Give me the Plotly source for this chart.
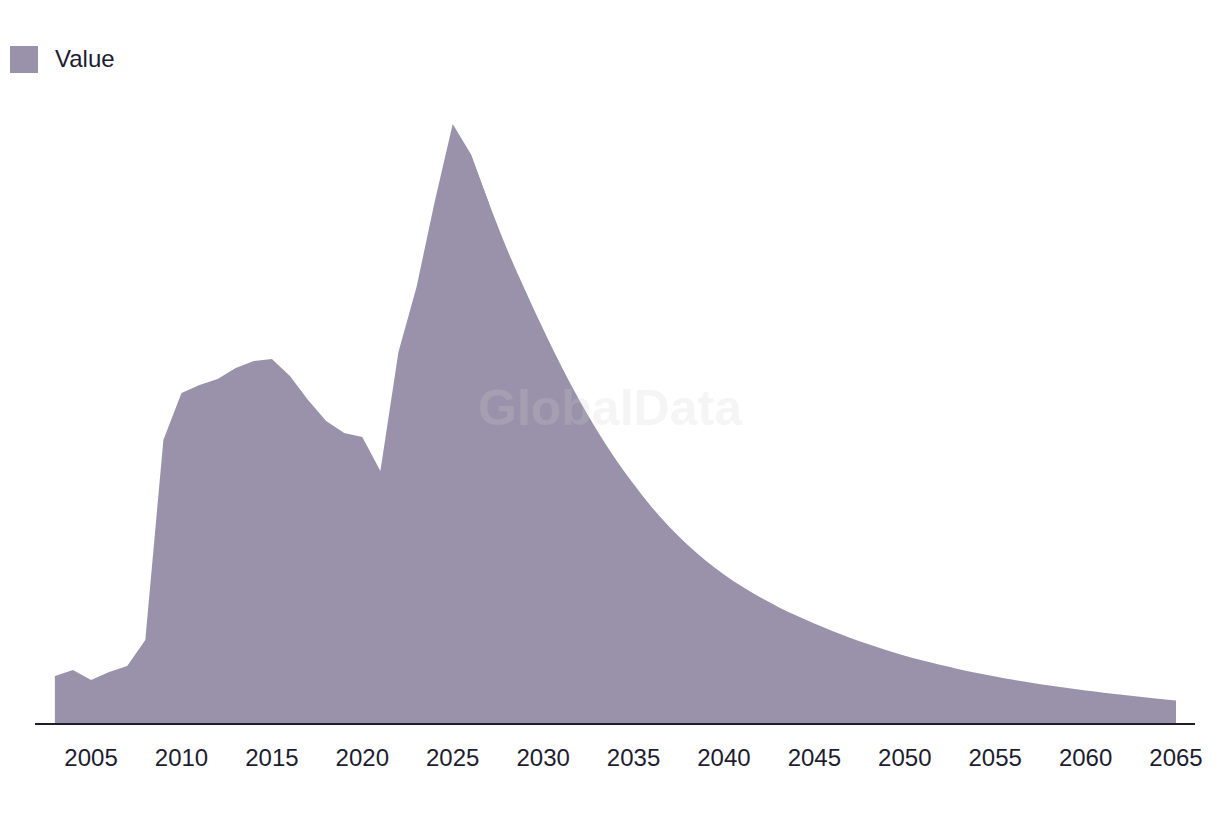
import plotly.graph_objects as go

years = list(range(2003, 2066))
values = [
    4.7, 5.3, 4.3, 5.1, 5.7, 8.3, 28.3, 33.0, 33.8, 34.4,
    35.5, 36.2, 36.4, 34.7, 32.3, 30.2, 29.0, 28.6, 25.2, 37.1,
    43.6, 52.1, 59.9, 56.9, 52.0, 47.4, 43.3, 39.4, 35.7, 32.3,
    29.2, 26.4, 23.9, 21.6, 19.58, 17.8, 16.23, 14.85, 13.64, 12.57,
    11.61, 10.74, 9.94, 9.2, 8.51, 7.87, 7.28, 6.73, 6.24, 5.79,
    5.38, 5.0, 4.65, 4.33, 4.03, 3.75, 3.49, 3.25, 3.03, 2.82,
    2.62, 2.43, 2.25,
]
tick_vals = list(range(2005, 2066, 5))
tick_text = [str(v) for v in tick_vals]
series_name = "Value"
forecast_start = 2026  # smooth projected curve from here on

FILL = "#9A92AB"
TEXT = "#1D1C30"
FONT = "Liberation Sans, Arial, sans-serif"

W, H = 1220, 814
L, R, T, B = 35, 25, 100, 91
pw, ph = W - L - R, H - T - B

def px_x(px):
    return (px - L) / pw

def px_y(py):
    return (H - B - py) / ph

i0 = years.index(forecast_start)

fig = go.Figure()
# historical part (straight segments), extended one step to hide the seam
fig.add_trace(go.Scatter(
    x=years[: i0 + 2], y=values[: i0 + 2], mode="lines", name=series_name,
    fill="tozeroy", fillcolor=FILL, line=dict(width=0, color=FILL),
    showlegend=False, hoverinfo="x+y",
))
# projected part (smooth curve)
fig.add_trace(go.Scatter(
    x=years[i0:], y=values[i0:], mode="lines", name=series_name,
    fill="tozeroy", fillcolor=FILL,
    line=dict(width=0, color=FILL, shape="spline", smoothing=1.0),
    showlegend=False, hoverinfo="x+y",
))

fig.update_layout(
    width=W, height=H,
    margin=dict(l=L, r=R, t=T, b=B),
    paper_bgcolor="white", plot_bgcolor="white",
    font=dict(family=FONT, color=TEXT, size=24),
    xaxis=dict(
        range=[2001.9, 2066.05], tickmode="array",
        tickvals=tick_vals, ticktext=tick_text,
        showgrid=False, zeroline=False,
        showline=True, linecolor=TEXT, linewidth=2,
        ticks="outside", ticklen=12, tickcolor="rgba(0,0,0,0)",
        tickfont=dict(size=24, color=TEXT, family=FONT),
    ),
    yaxis=dict(
        range=[0, 62.3], showgrid=False, zeroline=False,
        showticklabels=False, showline=False, ticks="",
    ),
    shapes=[dict(
        type="rect", xref="paper", yref="paper",
        x0=px_x(10), x1=px_x(38), y0=px_y(73), y1=px_y(46),
        fillcolor=FILL, line=dict(width=0),
    )],
    annotations=[
        dict(text=series_name, xref="paper", yref="paper",
             x=px_x(53), y=px_y(58), xanchor="left", yanchor="middle",
             showarrow=False, font=dict(size=24, color=TEXT, family=FONT)),
        dict(text="<b>GlobalData</b>", xref="paper", yref="paper",
             x=px_x(610), y=px_y(408), xanchor="center", yanchor="middle",
             showarrow=False,
             font=dict(size=50, color="rgba(207,207,207,0.21)", family=FONT)),
    ],
)

fig.write_html("out.html")
